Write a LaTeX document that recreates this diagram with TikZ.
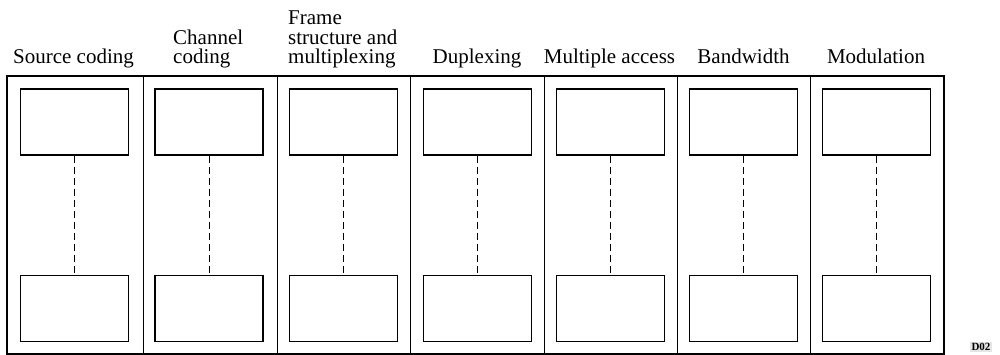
\documentclass[tikz,border=0pt]{standalone}
\usepackage{fontspec}
\setmainfont{Liberation Serif}
\begin{document}
\begin{tikzpicture}[x=1pt,y=-1pt,
  box/.style={draw,line width=1.1pt,rectangle,inner sep=0pt,minimum width=108pt,minimum height=66pt},
  lbl/.style={inner sep=0pt,font=\fontsize{21}{18}\selectfont},
  link/.style={line width=0.7pt,dash pattern=on 7pt off 4pt},
  frame/.style={line width=1.2pt},
  divider/.style={line width=0.9pt}]
\useasboundingbox (0,0) rectangle (1000,355);
% outer frame and column dividers
\draw[frame] (7,76) rectangle (944,354);
\foreach \x in {143,277,410,544,677,810}
  \draw[divider] (\x,76) -- (\x,354);
% boxes
\foreach \i/\x in {1/74.5,2/209,3/343.5,4/477.5,5/610.5,6/743.5,7/876.5}{
  \node[box] (t\i) at (\x,122) {};
  \node[box] (b\i) at (\x,308.5) {};
  \draw[link] (t\i.south) -- (b\i.north);
}
% labels
\node[lbl,anchor=base] (l1) at (73.5,64) {Source coding};
\node[lbl,anchor=base west] (l2) at (173,64) {\begin{tabular}[b]{@{}l@{}}Channel\\coding\end{tabular}};
\node[lbl,anchor=base west] (l3) at (288,64) {\begin{tabular}[b]{@{}l@{}}Frame\\structure and\\multiplexing\end{tabular}};
\node[lbl,anchor=base] (l4) at (477,64) {Duplexing};
\node[lbl,anchor=base] (l5) at (609.5,64) {Multiple access};
\node[lbl,anchor=base] (l6) at (743.5,64) {Bandwidth};
\node[lbl,anchor=base] (l7) at (876,64) {Modulation};
% figure code
\node[fill=gray!20,inner sep=1.5pt,font=\fontsize{11}{12}\selectfont\bfseries] (code) at (981,347) {D02};
\end{tikzpicture}
\end{document}
